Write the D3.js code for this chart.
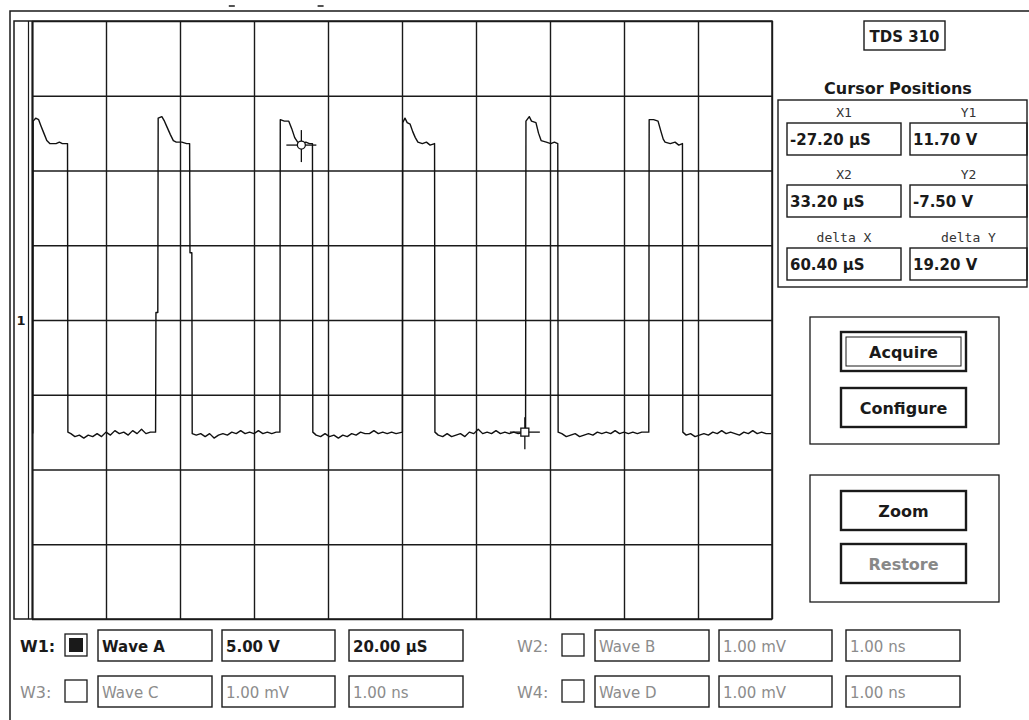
<!DOCTYPE html>
<html>
<head>
<meta charset="utf-8">
<script src="https://cdn.jsdelivr.net/npm/d3@7"></script>
<style>
  body { margin: 0; background: #fff; }
  svg { display: block; font-family: "DejaVu Sans", sans-serif; }
</style>
</head>
<body>
<svg id="scope" width="1029" height="720"></svg>
<script>
// time divisions (µs) and voltage divisions (V) of the screen graticule
const timeTicks = [-100, -80, -60, -40, -20, 0, 20, 40, 60, 80, 100];
const voltTicks = [-20, -15, -10, -5, 0, 5, 10, 15, 20];

// channel 1 trace, [time µs, volts]
const trace = [
  [-99.8, -7.6], [-99.7, 13.3], [-99.0, 13.5], [-98.2, 13.4], [-97.6, 13.0], [-96.8, 12.5],
  [-96.0, 12.0], [-95.2, 11.8], [-93.5, 11.8], [-92.6, 11.9], [-91.8, 11.8], [-90.4, 11.8],
  [-90.3, -7.5], [-89.5, -7.6], [-88.4, -7.8], [-87.2, -7.7], [-86.0, -7.9], [-84.8, -7.7],
  [-83.6, -7.8], [-82.4, -7.6], [-81.2, -7.8], [-80.0, -7.5], [-78.8, -7.7], [-77.6, -7.4],
  [-76.4, -7.6], [-75.2, -7.5], [-74.0, -7.7], [-72.8, -7.4], [-71.6, -7.6], [-70.4, -7.3],
  [-69.2, -7.6], [-68.0, -7.5], [-66.6, -7.5],
  [-66.5, 0.5], [-66.0, 0.5], [-65.9, 13.5], [-64.9, 13.6], [-64.2, 13.3], [-63.5, 12.9],
  [-62.6, 12.4], [-61.8, 12.0], [-61.0, 11.9], [-59.5, 11.9], [-58.2, 11.8], [-57.4, 11.8],
  [-57.3, 4.5], [-56.8, 4.5], [-56.7, -7.6], [-55.6, -7.7], [-54.4, -7.6], [-53.2, -7.8],
  [-52.0, -7.6], [-50.8, -7.9], [-49.6, -7.7], [-48.4, -7.6], [-47.2, -7.7], [-46.0, -7.5],
  [-44.8, -7.6], [-43.6, -7.4], [-42.4, -7.6], [-41.2, -7.5], [-40.0, -7.6], [-38.8, -7.4],
  [-37.6, -7.6], [-36.4, -7.5], [-35.2, -7.6], [-34.0, -7.5], [-33.0, -7.5],
  [-32.9, 13.4], [-31.8, 13.3], [-30.6, 13.3], [-29.8, 12.8], [-29.0, 12.2], [-28.2, 11.9],
  [-27.0, 11.8], [-26.0, 11.9], [-25.0, 11.8], [-24.2, 11.8],
  [-24.1, -7.5], [-23.2, -7.7], [-22.0, -7.8], [-20.8, -7.6], [-19.6, -7.8], [-18.4, -7.7],
  [-17.2, -7.9], [-16.0, -7.7], [-14.8, -7.8], [-13.6, -7.6], [-12.4, -7.7], [-11.2, -7.5],
  [-10.0, -7.6], [-8.8, -7.6], [-7.6, -7.4], [-6.4, -7.6], [-5.2, -7.5], [-4.0, -7.6],
  [-2.8, -7.5], [-1.6, -7.6], [0.1, -7.5],
  [0.2, 13.2], [0.8, 13.5], [1.4, 13.2], [2.2, 13.1], [2.9, 12.6], [3.6, 12.2], [4.3, 11.9],
  [5.5, 11.8], [6.6, 11.9], [7.6, 11.7], [8.8, 11.8],
  [8.9, -7.5], [9.8, -7.7], [11.0, -7.8], [12.2, -7.6], [13.4, -7.8], [14.6, -7.7],
  [15.8, -7.6], [17.0, -7.8], [18.2, -7.5], [19.4, -7.6], [20.6, -7.3], [21.8, -7.6],
  [23.0, -7.5], [24.2, -7.6], [25.4, -7.4], [26.6, -7.6], [27.8, -7.5], [29.0, -7.6],
  [30.2, -7.5], [31.4, -7.6], [33.4, -7.5],
  [33.5, 13.3], [34.4, 13.6], [35.0, 13.3], [36.2, 13.2], [36.9, 12.5], [37.6, 12.0],
  [39.0, 11.9], [40.2, 11.8], [41.2, 11.9], [42.1, 11.8],
  [42.2, -7.5], [43.2, -7.6], [44.4, -7.8], [45.6, -7.7], [46.8, -7.6], [48.0, -7.8],
  [49.2, -7.7], [50.4, -7.6], [51.6, -7.7], [52.8, -7.5], [54.0, -7.6], [55.2, -7.5],
  [56.4, -7.6], [57.6, -7.4], [58.8, -7.6], [60.0, -7.5], [61.2, -7.6], [62.4, -7.5],
  [63.6, -7.6], [64.8, -7.5], [66.7, -7.5],
  [66.8, 13.4], [68.0, 13.4], [69.2, 13.3], [70.0, 12.6], [70.6, 12.1], [71.1, 11.9],
  [72.5, 11.8], [73.8, 11.9], [74.8, 11.7], [75.8, 11.8],
  [75.9, -7.5], [76.8, -7.7], [78.0, -7.6], [79.2, -7.8], [80.4, -7.7], [81.6, -7.6],
  [82.8, -7.7], [84.0, -7.5], [85.2, -7.6], [86.4, -7.4], [87.6, -7.6], [88.8, -7.5],
  [90.0, -7.6], [91.2, -7.7], [92.4, -7.5], [93.6, -7.6], [94.8, -7.4], [96.0, -7.6],
  [97.2, -7.5], [98.4, -7.6], [99.8, -7.6]
];

// cursor positions
const cursorTimes = [-27.2, 33.2];
const cursorVolts = [11.7, -7.5];

const readoutLabels = ['X1', 'Y1', 'X2', 'Y2', 'delta X', 'delta Y'];
const readoutValues = ['-27.20 µS', '11.70 V', '33.20 µS', '-7.50 V', '60.40 µS', '19.20 V'];

const channelNames = ['W1:', 'W2:', 'W3:', 'W4:'];
const waveNames = ['Wave A', 'Wave B', 'Wave C', 'Wave D'];
const voltsPerDiv = ['5.00 V', '1.00 mV', '1.00 mV', '1.00 mV'];
const timePerDiv = ['20.00 µS', '1.00 ns', '1.00 ns', '1.00 ns'];
const channelOn = [true, false, false, false];

const buttonLabels = ['Acquire', 'Configure', 'Zoom', 'Restore'];

const svg = d3.select('#scope');
const ink = '#1a1a1a';
const grey = '#8c8c8c';

const plotLeft = 32, plotRight = 772, plotTop = 21, plotBottom = 619;

const x = d3.scaleLinear().domain([-100, 100]).range([plotLeft, plotRight]);
const y = d3.scaleLinear().domain([-20, 20]).range([plotBottom, plotTop]);

// outer frame lines
svg.append('path')
  .attr('d', 'M10,720V11H1029')
  .attr('fill', 'none')
  .attr('stroke', ink)
  .attr('stroke-width', 1.5);

svg.append('rect')
  .attr('x', 14).attr('y', plotTop)
  .attr('width', plotRight - 14).attr('height', plotBottom - plotTop)
  .attr('fill', 'none')
  .attr('stroke', ink)
  .attr('stroke-width', 1.5);

svg.append('line')
  .attr('x1', 28.5).attr('x2', 28.5)
  .attr('y1', plotTop).attr('y2', plotBottom)
  .attr('stroke', ink)
  .attr('stroke-width', 1.2);

// little marks above the frame
svg.selectAll('.mark')
  .data([-46, -22])
  .join('line')
  .attr('class', 'mark')
  .attr('x1', d => x(d) - 3).attr('x2', d => x(d) + 3)
  .attr('y1', 6).attr('y2', 6)
  .attr('stroke', ink)
  .attr('stroke-width', 1.5);

// graticule
const gx = svg.append('g')
  .attr('transform', `translate(0,${plotBottom})`)
  .call(d3.axisBottom(x).tickValues(timeTicks).tickSize(-(plotBottom - plotTop)).tickFormat(''));

const gy = svg.append('g')
  .attr('transform', `translate(${plotLeft},0)`)
  .call(d3.axisLeft(y).tickValues(voltTicks).tickSize(-(plotRight - plotLeft)).tickFormat(''));

[gx, gy].forEach(g => {
  g.select('.domain').remove();
  g.selectAll('.tick line')
    .attr('stroke', ink)
    .attr('stroke-width', 1.4);
});

gy.selectAll('.tick line')
  .filter(d => d === 20 || d === -20)
  .attr('stroke-width', 1.6);

gx.selectAll('.tick line')
  .filter(d => d === -100)
  .attr('stroke-width', 2.2);

// channel ground marker
svg.append('text')
  .attr('x', 21)
  .attr('y', y(0) + 5)
  .attr('text-anchor', 'middle')
  .attr('font-size', 13)
  .attr('font-weight', 'bold')
  .attr('fill', ink)
  .text('1');

// trace
const line = d3.line()
  .x(d => x(d[0]))
  .y(d => y(d[1]));

svg.append('path')
  .datum(trace)
  .attr('d', line)
  .attr('fill', 'none')
  .attr('stroke', '#111')
  .attr('stroke-width', 1.4)
  .attr('stroke-linejoin', 'round');

// cursors
const cursors = svg.selectAll('.cursor')
  .data(cursorTimes.map((t, i) => [t, cursorVolts[i]]))
  .join('g')
  .attr('class', 'cursor')
  .attr('transform', d => `translate(${x(d[0])},${y(d[1])})`)
  .attr('stroke', '#111')
  .attr('stroke-width', 1.3)
  .attr('fill', 'none');

cursors.append('line').attr('x1', -15).attr('x2', 15);
cursors.append('line').attr('y1', -15).attr('y2', 17);
cursors.filter((d, i) => i === 0).append('circle').attr('r', 4).attr('fill', '#fff');
cursors.filter((d, i) => i === 1).append('rect')
  .attr('x', -4).attr('y', -4).attr('width', 8).attr('height', 8).attr('fill', '#fff');

// right panel
function box(g, bx, by, bw, bh, sw) {
  g.append('rect')
    .attr('x', bx).attr('y', by)
    .attr('width', bw).attr('height', bh)
    .attr('fill', 'none')
    .attr('stroke', ink)
    .attr('stroke-width', sw || 1.4);
}

function label(g, tx, ty, txt, opts) {
  opts = opts || {};
  return g.append('text')
    .attr('x', tx).attr('y', ty)
    .attr('text-anchor', opts.anchor || 'start')
    .attr('font-size', opts.size || 15)
    .attr('font-weight', opts.weight || 'bold')
    .attr('font-family', opts.family || null)
    .attr('fill', opts.fill || ink)
    .text(txt);
}

const panel = svg.append('g');

box(panel, 864, 21, 81, 29);
label(panel, 904.5, 42, 'TDS 310', { anchor: 'middle' });

label(panel, 898, 94, 'Cursor Positions', { anchor: 'middle', size: 16 });
box(panel, 778, 100, 249, 187);

const fieldX = [787, 910];
const fieldW = [114, 117];
const fieldY = [123, 185, 248];

readoutLabels.forEach((txt, i) => {
  const col = i % 2, row = Math.floor(i / 2);
  const fx = fieldX[col], fy = fieldY[row];
  label(panel, fx + fieldW[col] / 2, fy - 6, txt, {
    anchor: 'middle', size: 13, weight: 'normal',
    family: '"DejaVu Sans Mono", monospace', fill: '#333'
  });
  box(panel, fx, fy, fieldW[col], 32);
  label(panel, fx + 3, fy + 22, readoutValues[i]);
});

// button groups
const groupY = [317, 475];
groupY.forEach(gy0 => box(panel, 810, gy0, 189, 127, 1.3));

const buttonY = [332, 388, 491, 544];
buttonLabels.forEach((txt, i) => {
  box(panel, 841, buttonY[i], 125, 39, 2.4);
  if (i === 0) {
    box(panel, 846, buttonY[i] + 5, 115, 29, 1);
  }
  label(panel, 903.5, buttonY[i] + 26, txt, {
    anchor: 'middle', size: 16,
    fill: i === 3 ? '#888' : ink
  });
});

// channel rows
const chan = svg.append('g');
const blockX = [0, 497];
const rowY = [630, 676];
const slotX = [98, 222, 349];
const slotW = [114, 113, 114];

channelNames.forEach((name, i) => {
  const col = i % 2, row = Math.floor(i / 2);
  const ox = blockX[col], oy = rowY[row];
  const on = channelOn[i];
  const col0 = on ? ink : grey;

  label(chan, ox + 20, oy + 22, name, { size: 16, fill: col0, weight: on ? 'bold' : 'normal' });
  box(chan, ox + 65, oy + 4, 22, 22, 1.3);
  if (on) {
    chan.append('rect')
      .attr('x', ox + 69).attr('y', oy + 8)
      .attr('width', 14).attr('height', 14)
      .attr('fill', ink);
  }

  [waveNames[i], voltsPerDiv[i], timePerDiv[i]].forEach((txt, j) => {
    box(chan, ox + slotX[j], oy, slotW[j], 31, 1.4);
    label(chan, ox + slotX[j] + 4, oy + 22, txt, {
      fill: col0, weight: on ? 'bold' : 'normal'
    });
  });
});
</script>
</body>
</html>
